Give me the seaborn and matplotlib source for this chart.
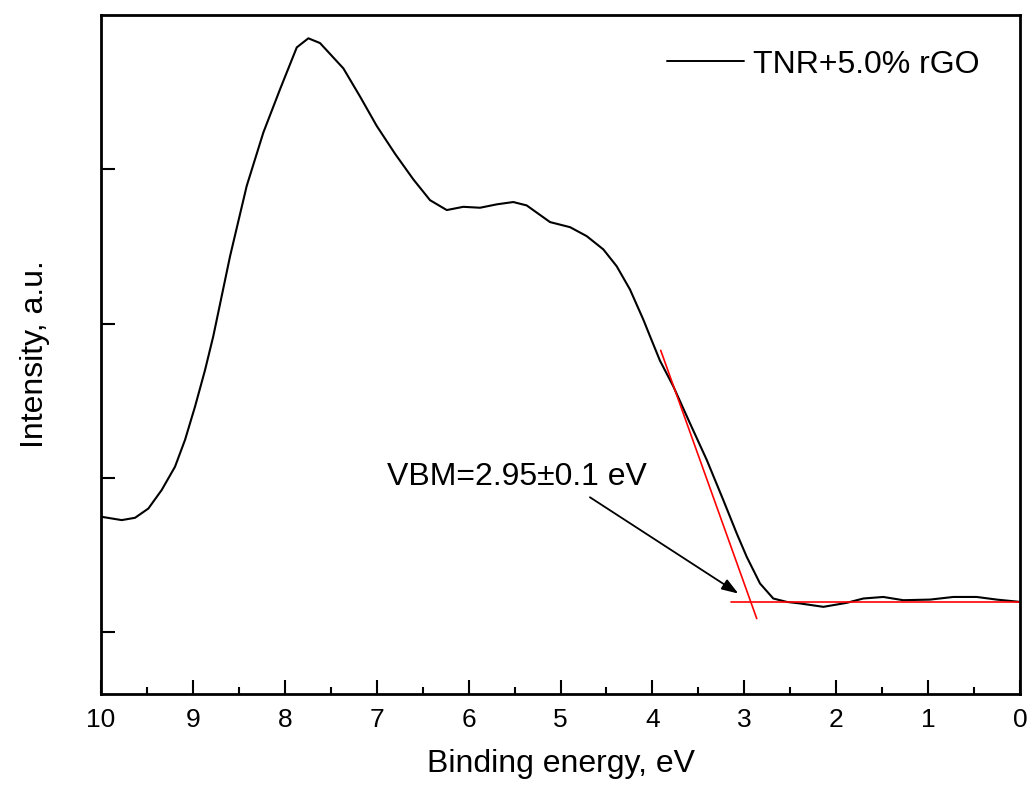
import numpy as np
import pandas as pd
import matplotlib
matplotlib.use("Agg")
import matplotlib.pyplot as plt
import seaborn as sns

# Data (binding energy in eV, intensity in a.u.)
energy = [10.0, 9.775, 9.63, 9.485, 9.34, 9.195, 9.086, 8.977, 8.868, 8.778,
          8.596, 8.415, 8.234, 8.052, 7.870, 7.744, 7.617, 7.363, 7.18, 7.0,
          6.80, 6.602, 6.42, 6.238, 6.058, 5.876, 5.694, 5.514, 5.368, 5.114,
          4.896, 4.715, 4.534, 4.389, 4.244, 4.099, 4.026, 3.918, 3.773, 3.592,
          3.409, 3.229, 3.083, 2.974, 2.829, 2.685, 2.539, 2.394, 2.140, 1.886,
          1.705, 1.488, 1.270, 0.979, 0.726, 0.471, 0.254, 0.0]
intensity = [1.749, 1.727, 1.742, 1.802, 1.922, 2.073, 2.247, 2.463, 2.700, 2.920,
             3.437, 3.892, 4.238, 4.519, 4.790, 4.849, 4.818, 4.654, 4.47, 4.281,
             4.10, 3.935, 3.800, 3.736, 3.757, 3.751, 3.773, 3.788, 3.766, 3.658,
             3.625, 3.567, 3.481, 3.372, 3.221, 3.026, 2.918, 2.760, 2.594, 2.355,
             2.117, 1.857, 1.641, 1.489, 1.316, 1.219, 1.197, 1.187, 1.165, 1.191,
             1.219, 1.229, 1.208, 1.212, 1.229, 1.229, 1.212, 1.197]
series_label = "TNR+5.0% rGO"

tangent_x = [3.910, 2.865]
tangent_y = [2.827, 1.089]
baseline_x = [3.14, 0.0]
baseline_y = [1.197, 1.197]

vbm_text = "VBM=2.95\u00b10.1 eV"
text_pos = (4.06, 1.955)
arrow_tail = (4.68, 1.875)
arrow_head = (3.065, 1.251)

x_ticks = [10, 9, 8, 7, 6, 5, 4, 3, 2, 1, 0]
y_ticks = [1, 2, 3, 4]

sns.set_style("ticks")
plt.rcParams['font.family'] = ['Liberation Sans', 'DejaVu Sans']
for k in ['text.color', 'axes.labelcolor', 'xtick.color', 'ytick.color', 'axes.edgecolor']:
    plt.rcParams[k] = 'black'

fig = plt.figure(figsize=(10.32, 7.93), dpi=100)
ax = fig.add_axes([0.0979, 0.1248, 0.8905, 0.8563])

df = pd.DataFrame({"energy": energy, "intensity": intensity, "series": series_label})
sns.lineplot(data=df, x="energy", y="intensity", hue="series", palette=["black"],
             linewidth=1.5, ax=ax, sort=False, solid_joinstyle="round")

ax.plot(tangent_x, tangent_y, color="red", linewidth=1.2)
ax.plot(baseline_x, baseline_y, color="red", linewidth=1.2)

ax.annotate("", xy=arrow_head, xytext=arrow_tail,
            arrowprops=dict(arrowstyle="-|>,head_length=1.0,head_width=0.35",
                            color="black", lw=1.3, shrinkA=0, shrinkB=0))
ax.text(text_pos[0], text_pos[1], vbm_text, fontsize=23, ha="right", va="baseline")

ax.set_xlim(10, 0)
ax.set_ylim(0.6, 5.0)
ax.set_xticks(x_ticks)
ax.set_xticks(np.arange(0.5, 10, 1.0), minor=True)
ax.set_yticks(y_ticks)
ax.set_yticklabels([])
ax.tick_params(axis="both", which="major", direction="in", length=10, width=1.5,
               labelsize=19, pad=10)
ax.tick_params(axis="x", which="minor", direction="in", length=5, width=1.5)
for s in ax.spines.values():
    s.set_visible(True)
    s.set_linewidth(2.0)
    s.set_color("black")

ax.set_xlabel("Binding energy, eV", fontsize=23, labelpad=12)
ax.set_ylabel("Intensity, a.u.", fontsize=23, labelpad=27)

leg = ax.legend(loc="center left", frameon=False, fontsize=23, handlelength=2.4,
                handletextpad=0.3, borderpad=0, borderaxespad=0,
                bbox_to_anchor=(0.616, 0.927))
for h in leg.get_lines():
    h.set_linewidth(1.4)

fig.savefig("out.png", dpi=100)
